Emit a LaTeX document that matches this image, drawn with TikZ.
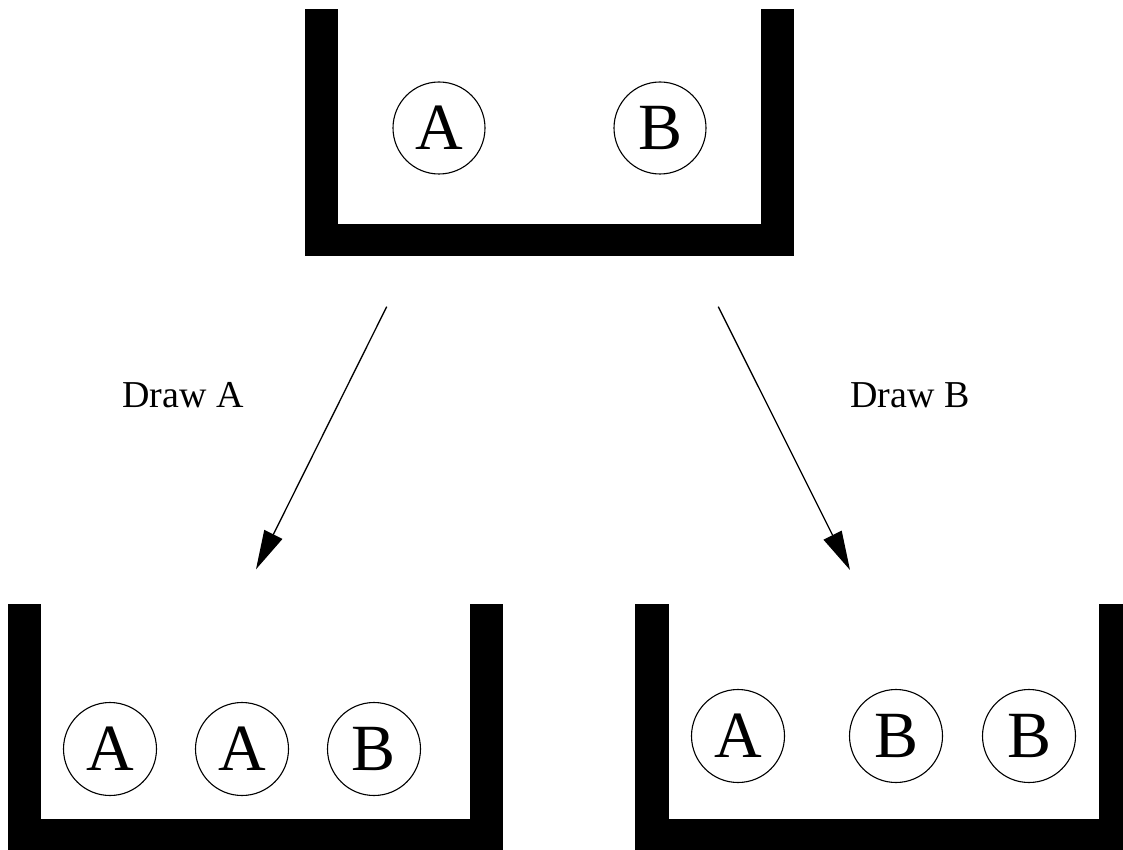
\documentclass[tikz,border=0pt]{standalone}
\usepackage{fontspec}
\setmainfont{Liberation Serif}
\usetikzlibrary{arrows.meta}
\begin{document}
\begin{tikzpicture}[x=1pt,y=-1pt,
  wall/.style={fill=black,draw=none},
  ball/.style={circle,draw,line width=1.1pt,minimum size=92pt,inner sep=0pt,font=\fontsize{66}{66}\selectfont},
  lbl/.style={font=\fontsize{38}{38}\selectfont,anchor=base west,inner sep=0pt},
  arr/.style={line width=1.3pt,-{Triangle[length=39pt,width=20pt]}}]
\useasboundingbox (0,0) rectangle (1123,850);
% top urn
\fill[wall] (305,9) rectangle (338,256);
\fill[wall] (305,224) rectangle (794,256);
\fill[wall] (761,9) rectangle (794,256);
% bottom left urn
\fill[wall] (8,604) rectangle (41,850);
\fill[wall] (8,819) rectangle (503,850);
\fill[wall] (470,604) rectangle (503,850);
% bottom right urn
\fill[wall] (635,604) rectangle (669,850);
\fill[wall] (635,819) rectangle (1132,850);
\fill[wall] (1099,604) rectangle (1132,850);
% balls
\node[ball] (tA) at (439,128) {A};
\node[ball] (tB) at (660,128) {B};
\node[ball,minimum size=93pt] (lA1) at (110,749) {A};
\node[ball,minimum size=93pt] (lA2) at (242,749) {A};
\node[ball,minimum size=93pt] (lB) at (374,749) {B};
\node[ball,minimum size=93pt] (rA) at (738,736) {A};
\node[ball,minimum size=93pt] (rB1) at (896,736) {B};
\node[ball,minimum size=93pt] (rB2) at (1029,736) {B};
% labels
\node[lbl] (dA) at (122,407) {Draw A};
\node[lbl] (dB) at (850,407) {Draw B};
% arrows
\coordinate (s1) at (386.7,306.7);
\coordinate (e1) at (256,569.3);
\coordinate (s2) at (718.3,306.7);
\coordinate (e2) at (850,570);
\draw[arr] (s1) -- (e1);
\draw[arr] (s2) -- (e2);
\end{tikzpicture}
\end{document}
